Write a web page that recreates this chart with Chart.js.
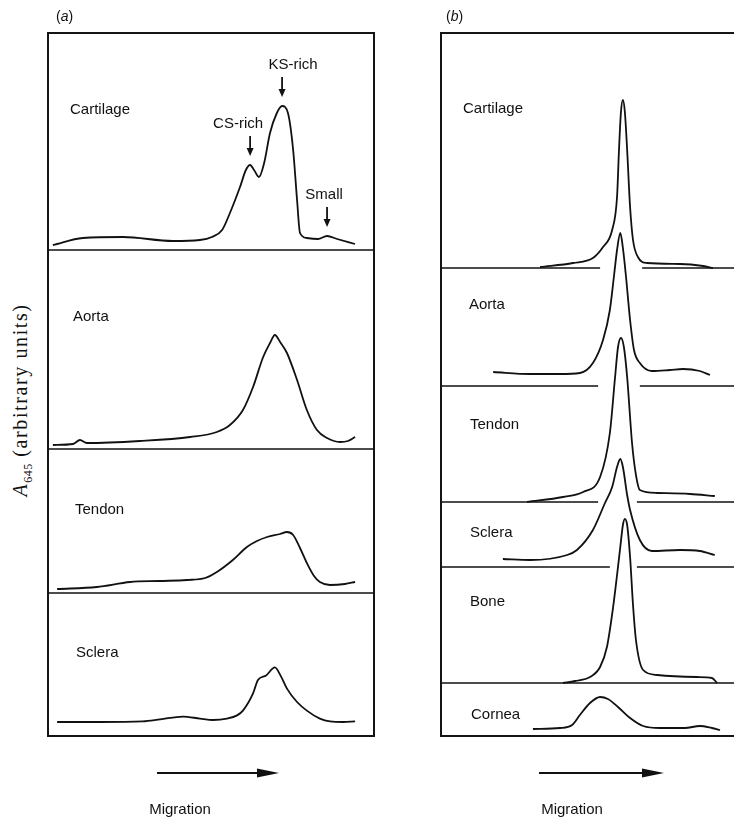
<!DOCTYPE html>
<html>
<head>
<meta charset="utf-8">
<script src="https://cdn.jsdelivr.net/npm/chart.js@4.4.1/dist/chart.umd.min.js"></script>
<style>
  html, body { margin: 0; padding: 0; background: #fff; }
  body { width: 734px; height: 831px; position: relative; overflow: hidden;
         font-family: "Liberation Sans", Arial, Helvetica, sans-serif; color: #111; }
  .frame { position: absolute; border: 2px solid #141414; box-sizing: border-box; }
  canvas { position: absolute; }
  .lbl { position: absolute; font-size: 15px; line-height: 1; transform: translateY(-50%); white-space: nowrap; }
  .panel { position: absolute; font-size: 14px; line-height: 1; }
  .mig { position: absolute; font-size: 15px; line-height: 1; transform: translate(-50%, -50%); white-space: nowrap; }
  .ylab { position: absolute; left: 22px; top: 400px; transform: translate(-50%, -50%) rotate(-90deg);
          font-family: "Liberation Serif", "Times New Roman", serif; font-size: 20px; letter-spacing: 1.6px;
          white-space: nowrap; line-height: 1; }
  .ylab sub { font-size: 12px; letter-spacing: 0.5px; }
  svg { position: absolute; left: 0; top: 0; }
</style>
</head>
<body>
<script>
// ---------- (a) electrophoresis scans: migration (x) vs A645 (y) ----------
const aCartilageX = [1.5, 10.7, 23.0, 38.3, 46.6, 50.3, 53.4, 55.8, 58.9, 60.7, 62.0, 63.2, 64.7, 66.3, 68.1, 70.2, 71.8, 73.6, 75.2, 76.4, 77.3, 79.4, 82.8, 85.6, 88.7, 94.2];
const aCartilageY = [2.5, 6, 6.5, 4.5, 5, 6.5, 10, 18.5, 31.5, 40, 42.5, 40, 36.5, 43.5, 58.5, 68.5, 72, 68.5, 50, 25, 8.5, 6, 5.5, 7, 5.5, 3];

const aAortaX = [1.5, 7.7, 9.8, 11.9, 28.2, 43.6, 51.8, 55.8, 59.8, 62.9, 66.0, 68.1, 69.6, 71.2, 73.3, 76.4, 79.4, 82.5, 85.6, 89.6, 92.0, 94.2];
const aAortaY = [2, 2.5, 4.5, 3, 4, 6, 8.5, 12, 19.5, 31, 46, 53, 57, 53.5, 48, 34.5, 19.5, 9.5, 5.5, 3.5, 4, 6];

const aTendonX = [2.8, 15.0, 25.2, 34.4, 42.6, 48.2, 51.8, 56.7, 61.0, 64.1, 67.2, 71.2, 73.3, 75.2, 77.3, 79.4, 81.6, 83.4, 86.5, 91.1, 94.2];
const aTendonY = [2, 3, 5.5, 6, 6.5, 7.5, 10.5, 16.5, 23, 26, 28, 29.5, 30.5, 29, 22.5, 15, 8.5, 5.5, 4, 4.5, 5.5];

const aScleraX = [2.8, 16.0, 29.1, 34.4, 41.4, 46.6, 50.6, 54.9, 58.0, 59.8, 62.9, 64.4, 66.9, 69.6, 71.5, 73.3, 76.4, 79.4, 83.4, 86.5, 90.5, 94.2];
const aScleraY = [7, 7, 7.3, 8.3, 9.7, 8.7, 8, 8.7, 10.3, 12.7, 21.3, 28, 30.3, 34.3, 29.7, 23.7, 17, 12.7, 8.7, 7.3, 7, 7.3];

// ---------- (b) scans ----------
const bCartilageX = [30.4, 40.5, 46.6, 49.7, 52.5, 54.0, 54.6, 55.2, 55.8, 56.4, 57.1, 58.0, 58.9, 60.4, 63.2, 73.3, 80.4, 83.4];
const bCartilageY = [0.5, 2.5, 5, 10.5, 19, 35.5, 59, 78, 84, 78, 59, 30.5, 14, 5.5, 2.5, 2, 1, 0];

const bAortaX = [16.0, 27.3, 36.5, 42.6, 46.6, 49.7, 51.8, 53.1, 54.0, 55.0, 55.8, 56.7, 58.0, 59.2, 61.0, 64.7, 70.2, 74.2, 79.4, 82.5];
const bAortaY = [7, 6, 6, 6.5, 11.5, 23, 38, 55.5, 68, 76.5, 69, 55.5, 33, 18, 11.5, 7.5, 8, 8.5, 7.5, 5.5];

const bTendonX = [26.4, 37.4, 43.6, 48.8, 51.8, 53.4, 54.3, 55.2, 56.1, 57.1, 58.6, 59.8, 61.0, 66.3, 76.4, 84.0];
const bTendonY = [0, 2.5, 5, 12.5, 34.5, 62.5, 77.5, 82, 77.5, 62.5, 29.5, 13.5, 6, 4.5, 4, 3];

const bScleraX = [19.0, 27.3, 38.7, 41.7, 46.6, 50.3, 52.5, 54.0, 55.0, 55.8, 57.1, 58.0, 61.0, 64.7, 73.3, 79.4, 84.0];
const bScleraY = [4, 3.5, 6, 8.5, 18.5, 32, 40, 50, 54, 50, 36, 28.5, 13.5, 8, 8.5, 8, 6];

const bBoneX = [37.4, 41.1, 45.7, 48.8, 50.9, 52.8, 54.0, 55.0, 55.8, 56.4, 57.1, 58.0, 58.9, 59.8, 62.0, 66.3, 78.5, 83.1, 84.7];
const bBoneY = [0, 1, 3, 8, 18, 38, 54, 68, 79, 82, 79, 63, 39, 21.5, 6.5, 4, 3, 2.5, 0];

const bCorneaX = [28.2, 36.5, 40.2, 42.6, 45.7, 48.8, 51.2, 54.3, 58.0, 62.0, 67.2, 74.8, 79.4, 83.1, 85.6];
const bCorneaY = [3.5, 4, 5.5, 10.5, 16.5, 19.5, 18.5, 14.5, 9, 5, 4, 4, 5, 4, 3];

const tissuesA = ['Cartilage', 'Aorta', 'Tendon', 'Sclera'];
const tissuesB = ['Cartilage', 'Aorta', 'Tendon', 'Sclera', 'Bone', 'Cornea'];

// peak annotations on the (a) cartilage scan: label and migration window holding the peak
const peakNotes = [
  { text: 'CS-rich', lo: 58, hi: 65, dx: -12 },
  { text: 'KS-rich', lo: 68, hi: 75, dx: 11 },
  { text: 'Small',   lo: 84, hi: 88, dx: -3 }
];

// ---------- layout ----------
const FRAME_TOP = 33, FRAME_BOTTOM = 736;
const PX_X = 3.26, PX_Y = 2;      // pixels per migration unit / absorbance unit
const INK = '#111';

const panelA = {
  left: 48, width: 326, right: 374,
  seps: [250, 449, 593, FRAME_BOTTOM],
  labels: [[70, 108], [73, 315], [75, 508], [76, 651]],
  gaps: [null, null, null, null],
  series: [[aCartilageX, aCartilageY], [aAortaX, aAortaY], [aTendonX, aTendonY], [aScleraX, aScleraY]],
  names: tissuesA
};
const panelB = {
  left: 441, width: 293, right: 760,
  seps: [268, 386, 502, 567, 683, FRAME_BOTTOM],
  labels: [[463, 107], [469, 303], [470, 423], [470, 531], [470, 600], [471, 713]],
  gaps: [[48.8, 61.7], [48.2, 61.0], [48.2, 60.1], [51.8, 60.1], null, null],
  series: [[bCartilageX, bCartilageY], [bAortaX, bAortaY], [bTendonX, bTendonY], [bScleraX, bScleraY], [bBoneX, bBoneY], [bCorneaX, bCorneaY]],
  names: tissuesB
};

function el(tag, cls, css, html) {
  const e = document.createElement(tag);
  if (cls) e.className = cls;
  Object.assign(e.style, css || {});
  if (html !== undefined) e.innerHTML = html;
  document.body.appendChild(e);
  return e;
}

// baseline separators, drawn in data space so they line up with the scans
function separatorPlugin(segments) {
  return {
    id: 'separator',
    afterDatasetsDraw(chart) {
      if (!segments.length) return;
      const { ctx, scales: { x, y } } = chart;
      const py = y.getPixelForValue(0);
      ctx.save();
      ctx.strokeStyle = INK;
      ctx.lineWidth = 1.7;
      segments.forEach(([a, b]) => {
        ctx.beginPath();
        ctx.moveTo(x.getPixelForValue(a), py);
        ctx.lineTo(x.getPixelForValue(b), py);
        ctx.stroke();
      });
      ctx.restore();
    }
  };
}

// down arrows and names over the peaks of a scan
function peakNotePlugin(xs, ys, notes) {
  return {
    id: 'peakNotes',
    afterDatasetsDraw(chart) {
      const { ctx, scales: { x, y } } = chart;
      ctx.save();
      ctx.fillStyle = INK;
      ctx.strokeStyle = INK;
      ctx.lineWidth = 1.8;
      ctx.font = '15px "Liberation Sans", Arial, sans-serif';
      ctx.textAlign = 'center';
      ctx.textBaseline = 'middle';
      notes.forEach(n => {
        let best = -1;
        xs.forEach((v, i) => {
          if (v >= n.lo && v <= n.hi && (best < 0 || ys[i] > ys[best])) best = i;
        });
        const px = x.getPixelForValue(xs[best]);
        const tip = y.getPixelForValue(ys[best]) - 9;
        const start = tip - 20;
        ctx.beginPath();
        ctx.moveTo(px, start);
        ctx.lineTo(px, tip - 6);
        ctx.stroke();
        ctx.beginPath();
        ctx.moveTo(px - 3.5, tip - 8);
        ctx.lineTo(px + 3.5, tip - 8);
        ctx.lineTo(px, tip);
        ctx.closePath();
        ctx.fill();
        ctx.fillText(n.text, px + n.dx, start - 12);
      });
      ctx.restore();
    }
  };
}

function drawPanel(panel, extra) {
  // frame
  el('div', 'frame', {
    left: (panel.left - 1) + 'px', top: (FRAME_TOP - 1) + 'px',
    width: (panel.right - panel.left + 2) + 'px', height: (FRAME_BOTTOM - FRAME_TOP + 2) + 'px'
  });
  const xMax = panel.width / PX_X;
  panel.series.forEach(([xs, ys], i) => {
    const sep = panel.seps[i];
    const h = sep - FRAME_TOP;
    const cv = el('canvas', null, {
      left: panel.left + 'px', top: FRAME_TOP + 'px',
      width: panel.width + 'px', height: (h + 2) + 'px'
    });
    cv.width = panel.width;
    cv.height = h + 2;

    let segments = [];
    if (sep !== FRAME_BOTTOM) {
      const g = panel.gaps[i];
      segments = g ? [[0, g[0]], [g[1], xMax]] : [[0, xMax]];
    }
    const plugins = [separatorPlugin(segments)];
    if (extra && extra.index === i) plugins.push(extra.plugin(xs, ys));

    new Chart(cv, {
      type: 'line',
      data: {
        datasets: [{
          label: panel.names[i],
          data: xs.map((v, k) => ({ x: v, y: ys[k] })),
          borderColor: INK,
          borderWidth: 1.8,
          pointRadius: 0,
          fill: false,
          cubicInterpolationMode: 'monotone',
          clip: false
        }]
      },
      options: {
        responsive: false,
        animation: false,
        events: [],
        layout: { padding: { left: 0, right: 0, top: 0, bottom: 2 } },
        plugins: { legend: { display: false }, tooltip: { enabled: false } },
        scales: {
          x: { type: 'linear', min: 0, max: xMax, display: false },
          y: { type: 'linear', min: 0, max: h / PX_Y, display: false }
        }
      },
      plugins
    });

    const [lx, ly] = panel.labels[i];
    el('div', 'lbl', { left: lx + 'px', top: ly + 'px' }, panel.names[i]);
  });
}

drawPanel(panelA, { index: 0, plugin: (xs, ys) => peakNotePlugin(xs, ys, peakNotes) });
drawPanel(panelB);

// panel letters
el('div', 'panel', { left: '56px', top: '9px' }, '(<i>a</i>)');
el('div', 'panel', { left: '446px', top: '9px' }, '(<i>b</i>)');

// y-axis title
el('div', 'ylab', {}, '<i>A</i><sub>645</sub> (arbitrary units)');

// migration direction arrows
const ARROW_Y = 773;
const svgNS = 'http://www.w3.org/2000/svg';
const svg = document.createElementNS(svgNS, 'svg');
svg.setAttribute('width', 734);
svg.setAttribute('height', 831);
document.body.appendChild(svg);
[[157, 279], [539, 664]].forEach(([x0, x1]) => {
  const line = document.createElementNS(svgNS, 'line');
  line.setAttribute('x1', x0); line.setAttribute('x2', x1 - 18);
  line.setAttribute('y1', ARROW_Y); line.setAttribute('y2', ARROW_Y);
  line.setAttribute('stroke', INK); line.setAttribute('stroke-width', 2);
  svg.appendChild(line);
  const head = document.createElementNS(svgNS, 'polygon');
  head.setAttribute('points', `${x1 - 22},${ARROW_Y - 4.5} ${x1},${ARROW_Y} ${x1 - 22},${ARROW_Y + 4.5}`);
  head.setAttribute('fill', INK);
  svg.appendChild(head);
});
el('div', 'mig', { left: '180px', top: '808px' }, 'Migration');
el('div', 'mig', { left: '572px', top: '808px' }, 'Migration');
</script>
</body>
</html>
